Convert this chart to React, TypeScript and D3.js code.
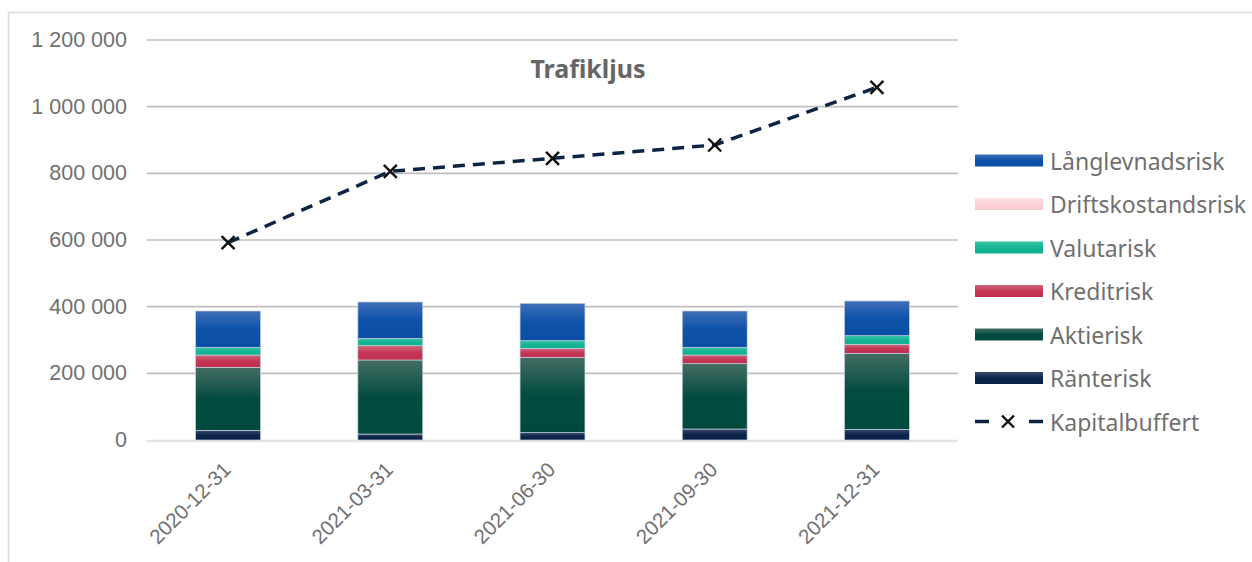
import React from "react";
import * as d3 from "d3";

const categories = ["2020-12-31", "2021-03-31", "2021-06-30", "2021-09-30", "2021-12-31"];
const ranterisk = [29000, 18000, 22000, 33000, 32000];
const aktierisk = [189000, 222000, 226000, 196000, 228000];
const kreditrisk = [37000, 43000, 27000, 26000, 27000];
const valutarisk = [23000, 22000, 23000, 23000, 26000];
const driftskostandsrisk = [0, 0, 0, 0, 0];
const langlevnadsrisk = [109000, 109000, 112000, 109000, 104000];
const kapitalbuffert = [592000, 806000, 845000, 885000, 1058000];
const yTicks = [0, 200000, 400000, 600000, 800000, 1000000, 1200000];

const seriesNames = ["Ränterisk", "Aktierisk", "Kreditrisk", "Valutarisk", "Driftskostandsrisk", "Långlevnadsrisk"];
const seriesValues = [ranterisk, aktierisk, kreditrisk, valutarisk, driftskostandsrisk, langlevnadsrisk];
const seriesGrad: [string, string, string][] = [
  ["#3b4b6b", "#0c244a", "#0a2247"],
  ["#456d63", "#034c40", "#004a3d"],
  ["#cd6a7b", "#c43556", "#c02f50"],
  ["#3ac4a5", "#15b595", "#10b090"],
  ["#fde2e4", "#fbd2d6", "#f8ccd1"],
  ["#4070b8", "#0e52aa", "#0b4ea5"],
];

const W = 1252;
const H = 562;
const fmt = d3.formatLocale({ decimal: ",", thousands: "\u00a0", grouping: [3], currency: ["", ""] }).format(",.0f");

export default function App() {
  const x = d3.scaleBand<string>().domain(categories).range([147, 958]).paddingInner(0.6).paddingOuter(0.3);
  const y = d3.scaleLinear().domain([0, 1200000]).range([440, 40]);

  const table = categories.map((c, i) => {
    const row: any = { cat: c };
    seriesNames.forEach((n, k) => (row[n] = seriesValues[k][i]));
    return row;
  });
  const stack = d3.stack<any>().keys(seriesNames)(table);

  const line = d3
    .line<number>()
    .x((_, i) => (x(categories[i]) as number) + x.bandwidth() / 2)
    .y((d) => y(d));

  const legendOrder = [5, 4, 3, 2, 1, 0];
  const legendY0 = 160.5;
  const legendStep = 43.5;
  const textColor = "#707070";

  return (
    <svg width={W} height={H} style={{ position: "absolute", left: 0, top: 0, background: "#fff" }}>
      <defs>
        {seriesGrad.map((g, k) => (
          <linearGradient key={k} id={`g${k}`} x1="0" y1="0" x2="0" y2="1">
            <stop offset="0" stopColor={g[0]} />
            <stop offset="0.5" stopColor={g[1]} />
            <stop offset="1" stopColor={g[2]} />
          </linearGradient>
        ))}
      </defs>
      <rect x={8.5} y={12.5} width={1260} height={570} fill="#fff" stroke="#d9d9d9" strokeWidth={1.5} />

      {yTicks.map((t) => (
        <g key={t}>
          {t > 0 && <line x1={147} x2={958} y1={y(t)} y2={y(t)} stroke="#bfbfbf" strokeWidth={1.6} />}
          <text
            x={127}
            y={y(t)}
            textAnchor="end"
            dominantBaseline="central"
            fontFamily="'Liberation Sans', Arial, sans-serif"
            fontSize={21.5}
            fill={textColor}
          >
            {fmt(t)}
          </text>
        </g>
      ))}
      <line x1={147} x2={958} y1={y(0) + 1} y2={y(0) + 1} stroke="#e3e3e3" strokeWidth={2.5} />

      {stack.map((s, k) =>
        s.map((d, i) => {
          const h = y(d[0]) - y(d[1]);
          if (h <= 0) return null;
          return (
            <rect
              key={`${k}-${i}`}
              x={x(categories[i])}
              y={y(d[1])}
              width={x.bandwidth()}
              height={h}
              fill={`url(#g${k})`}
              stroke="#c3cedd"
              strokeWidth={0.7}
            />
          );
        })
      )}

      <text
        x={588}
        y={68}
        textAnchor="middle"
        dominantBaseline="central"
        fontFamily="'Noto Sans', sans-serif"
        fontWeight="bold"
        fontSize={25}
        fill="#666666"
      >
        Trafikljus
      </text>

      <path d={line(kapitalbuffert) || ""} fill="none" stroke="#0e2443" strokeWidth={3.5} strokeDasharray="12 8" />
      {kapitalbuffert.map((v, i) => {
        const cx = (x(categories[i]) as number) + x.bandwidth() / 2;
        const cy = y(v);
        const r = 6.5;
        return (
          <g key={i} stroke="#111" strokeWidth={2.4}>
            <line x1={cx - r} y1={cy - r} x2={cx + r} y2={cy + r} />
            <line x1={cx - r} y1={cy + r} x2={cx + r} y2={cy - r} />
          </g>
        );
      })}

      {categories.map((c) => {
        const cx = (x(c) as number) + x.bandwidth() / 2;
        return (
          <text
            key={c}
            transform={`translate(${cx + 4},${471}) rotate(-45)`}
            textAnchor="end"
            fontFamily="'Liberation Sans', Arial, sans-serif"
            fontSize={20.5}
            fill={textColor}
          >
            {c}
          </text>
        );
      })}

      {legendOrder.map((k, j) => {
        const cy = legendY0 + j * legendStep;
        return (
          <g key={k}>
            <rect x={975} y={cy - 6} width={68} height={12} fill={`url(#g${k})`} />
            <text
              x={1050}
              y={cy}
              dominantBaseline="central"
              fontFamily="'Noto Sans', sans-serif"
              fontSize={23}
              fill={textColor}
            >
              {seriesNames[k]}
            </text>
          </g>
        );
      })}
      {(() => {
        const cy = legendY0 + 6 * legendStep;
        return (
          <g>
            <line x1={975} x2={989} y1={cy} y2={cy} stroke="#0e2443" strokeWidth={3.5} />
            <line x1={1029} x2={1043} y1={cy} y2={cy} stroke="#0e2443" strokeWidth={3.5} />
            <g stroke="#111" strokeWidth={2.4}>
              <line x1={1002} y1={cy - 6} x2={1014} y2={cy + 6} />
              <line x1={1002} y1={cy + 6} x2={1014} y2={cy - 6} />
            </g>
            <text
              x={1050}
              y={cy}
              dominantBaseline="central"
              fontFamily="'Noto Sans', sans-serif"
              fontSize={23}
              fill={textColor}
            >
              Kapitalbuffert
            </text>
          </g>
        );
      })()}
    </svg>
  );
}
